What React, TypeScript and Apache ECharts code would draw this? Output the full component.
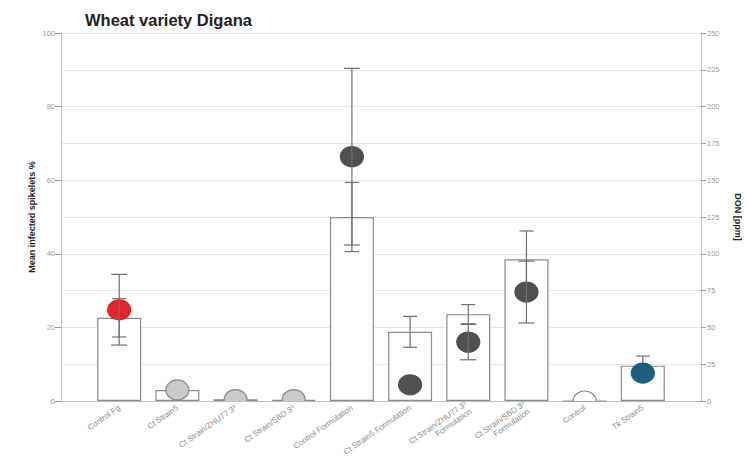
import React, { useEffect, useRef } from "react";
import * as echarts from "echarts";

const categories = [
  "Control Fg",
  "Ct Strain5",
  "Ct Strain/ZHU77 3³",
  "Ct Strain/SBD 3³",
  "Control Formulation",
  "Ct Strain5 Formulation",
  "Ct Strain/ZHU77 3³\nFormulation",
  "Ct Strain/SBD 3³\nFormulation",
  "Control",
  "Tk Strain5",
];
// Mean infected spikelets % (left axis)
const infected = [22.6, 3.0, 0.5, 0.3, 50.0, 18.8, 23.6, 38.5, 0, 9.6];
const infectedErr = [5.2, 0, 0, 0, 9.4, 4.2, 2.6, 7.7, 0, 2.6];
// DON ppm (right axis)
const don = [62, 7.5, 1, 1, 166, 11, 40, 74, 0, 19];
const donErr = [24, 0, 0, 0, 60, 0, 12, 21, 0, 0];
const dotColors = ["#e3242b", "#c9c9c9", "#c9c9c9", "#c9c9c9", "#505050", "#505050", "#505050", "#505050", "#ffffff", "#1d5f7c"];
const dotBorders = ["#e3242b", "#8a8a8a", "#8a8a8a", "#8a8a8a", "#505050", "#505050", "#505050", "#505050", "#8a8a8a", "#1d5f7c"];
const leftTicks = [0, 20, 40, 60, 80, 100];

export default function App() {
  const ref = useRef<HTMLDivElement>(null);
  useEffect(() => {
    if (!ref.current) return;
    const chart = echarts.init(ref.current, null, { renderer: "svg" });
    const errRender = (cap: number) => (params: any, api: any) => {
      const x = api.value(0);
      const y = api.value(1);
      const e = api.value(2);
      if (!e) return null;
      const top = api.coord([x, y + e]);
      const bot = api.coord([x, y - e]);
      const st = { stroke: "#6f6f6f", lineWidth: 1.2 };
      return {
        type: "group",
        children: [
          { type: "line", shape: { x1: top[0], y1: top[1], x2: bot[0], y2: bot[1] }, style: st },
          { type: "line", shape: { x1: top[0] - cap / 2, y1: top[1], x2: top[0] + cap / 2, y2: top[1] }, style: st },
          { type: "line", shape: { x1: bot[0] - cap / 2, y1: bot[1], x2: bot[0] + cap / 2, y2: bot[1] }, style: st },
        ],
      };
    };
    chart.setOption({
      animation: false,
      backgroundColor: "#ffffff",
      textStyle: { fontFamily: "Liberation Sans, Arial, sans-serif" },
      title: {
        text: "Wheat variety Digana",
        left: 80,
        top: 6,
        textStyle: { fontSize: 16.5, fontWeight: "bold", color: "#222" },
      },
      grid: { left: 61, right: 48, top: 33, bottom: 61 },
      xAxis: {
        type: "value",
        min: 0,
        max: 11,
        interval: 1,
        splitLine: { show: false },
        axisLine: { show: true, lineStyle: { color: "#bdbdbd" } },
        axisTick: { show: false },
        axisLabel: {
          rotate: 35,
          fontSize: 8,
          color: "#8a8a8a",
          lineHeight: 9,
          margin: 6,
          formatter: (v: number) => categories[v - 1] ?? "",
        },
      },
      yAxis: [
        {
          type: "value",
          min: 0,
          max: 100,
          interval: 20,
          name: "Mean infected spikelets %",
          nameLocation: "middle",
          nameGap: 25,
          nameMoveOverlap: false,
          nameTextStyle: { fontSize: 9, fontWeight: "bold", color: "#222" },
          axisLine: { show: true, lineStyle: { color: "#bdbdbd" } },
          axisTick: { show: true, length: 6, lineStyle: { color: "#9a9a9a" } },
          axisLabel: {
            fontSize: 7.5,
            color: "#9a9a9a",
            margin: 6,
            formatter: (v: number) => (leftTicks.includes(v) ? String(v) : ""),
          },
          splitLine: { show: false },
        },
        {
          type: "value",
          min: 0,
          max: 250,
          interval: 25,
          position: "right",
          name: "DON [ppm]",
          nameLocation: "middle",
          nameGap: 32,
          nameRotate: -90,
          nameTextStyle: { fontSize: 9, fontWeight: "bold", color: "#222" },
          axisLine: { show: true, lineStyle: { color: "#bdbdbd" } },
          axisTick: { show: true, length: 5, lineStyle: { color: "#9a9a9a" } },
          axisLabel: { fontSize: 7.5, color: "#9a9a9a", margin: 6 },
          splitLine: { show: true, lineStyle: { color: "#e8e8e8", width: 1 } },
        },
      ],
      series: [
        {
          type: "bar",
          yAxisIndex: 0,
          barWidth: 44,
          data: infected.map((v, i) => [i + 1, v]),
          itemStyle: { color: "#ffffff", borderColor: "#8c8c8c", borderWidth: 1.2 },
          z: 2,
        },
        {
          type: "custom",
          yAxisIndex: 0,
          data: infected.map((v, i) => [i + 1, v, infectedErr[i]]),
          renderItem: errRender(14),
          z: 3,
        },
        {
          type: "custom",
          yAxisIndex: 1,
          clip: true,
          data: don.map((v, i) => [i + 1, v, i]),
          renderItem: (params: any, api: any) => {
            const p = api.coord([api.value(0), api.value(1)]);
            const idx = api.value(2);
            return {
              type: "ellipse",
              shape: { cx: p[0], cy: p[1], rx: 11.5, ry: 10 },
              style: { fill: dotColors[idx], stroke: dotBorders[idx], lineWidth: 1.2 },
            };
          },
          z: 4,
        },
        {
          type: "custom",
          yAxisIndex: 1,
          data: don.map((v, i) => [i + 1, v, donErr[i]]),
          renderItem: errRender(16),
          z: 5,
        },
      ],
    });
    return () => chart.dispose();
  }, []);
  return <div ref={ref} style={{ width: 750, height: 462, margin: -8 }} />;
}
